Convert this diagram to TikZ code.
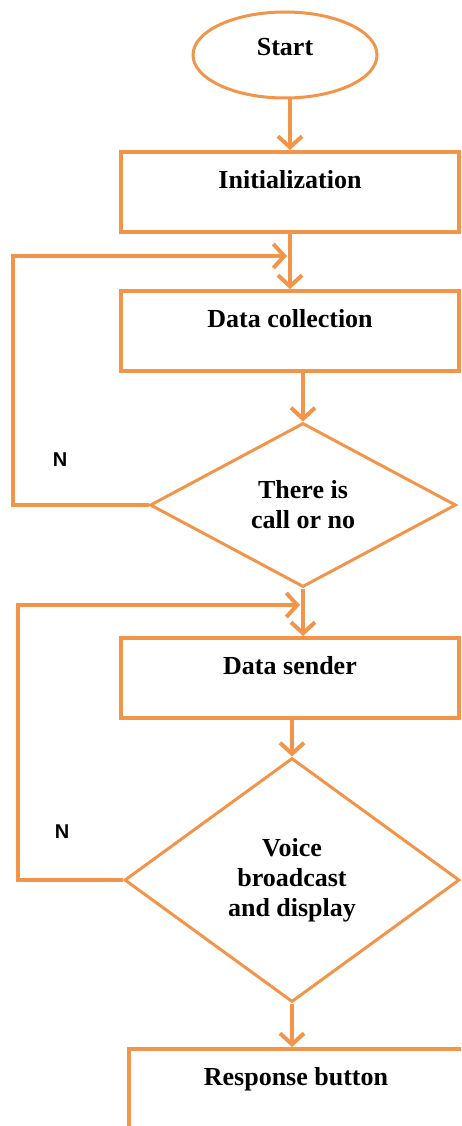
\documentclass[tikz,border=0pt]{standalone}
\usepackage{fontspec}
\setmainfont{Liberation Serif}
\newfontfamily\nfont{Liberation Sans}
\usetikzlibrary{shapes.geometric,arrows.meta}
\definecolor{flow}{RGB}{242,148,74}
\begin{document}
\begin{tikzpicture}[x=1pt,y=-1pt,
    every node/.style={font=\fontsize{26}{30}\selectfont\bfseries},
    proc/.style={draw=flow, line width=4pt, minimum width=338pt, minimum height=80pt, text height=18pt, text depth=25pt},
    ask/.style={draw=flow, line width=3pt, diamond, inner sep=0pt, align=center},
    link/.style={draw=flow, line width=4pt, -{Straight Barb[length=11pt,width=24pt]}},
    tag/.style={font=\nfont\bfseries\fontsize{20}{24}\selectfont}]
\useasboundingbox (0,0) rectangle (461,1126);
\clip (0,0) rectangle (461,1126);
\node[draw=flow, line width=3pt, ellipse, minimum width=184pt, minimum height=86pt, text height=17pt, text depth=16pt] (start) at (285,55) {Start};
\node[proc] (init) at (290,192) {Initialization};
\node[proc] (coll) at (290,331) {Data collection};
\node[ask, minimum width=306pt, minimum height=164pt] (call) at (303,505) {There is\\call or no};
\node[proc] (send) at (290,678) {Data sender};
\node[ask, minimum width=335pt, minimum height=244pt] (voice) at (292,880) {Voice\\broadcast\\and display};
\node[proc, minimum width=344pt] (resp) at (301,1089) {\hspace*{-10pt}Response button};
\node[tag] (n1) at (60,460) {N};
\node[tag] (n2) at (62,832) {N};
\coordinate (l1) at (13,256);
\coordinate (j1) at (287,256);
\coordinate (l2) at (18,605);
\coordinate (j2) at (300,605);
\draw[link] (init.north |- start.south) -- (init.north);
\draw[link] (init) -- (coll);
\draw[link] (coll.south -| call.north) -- (call.north);
\draw[link] (call.south) -- (send.north -| call.south);
\draw[link] (send.south -| voice.north) -- (voice.north);
\draw[link] (voice.south) -- (voice.south |- resp.north);
\draw[link] (call.west) -| (l1) -- (j1);
\draw[link] (voice.west) -| (l2) -- (j2);
\end{tikzpicture}
\end{document}
